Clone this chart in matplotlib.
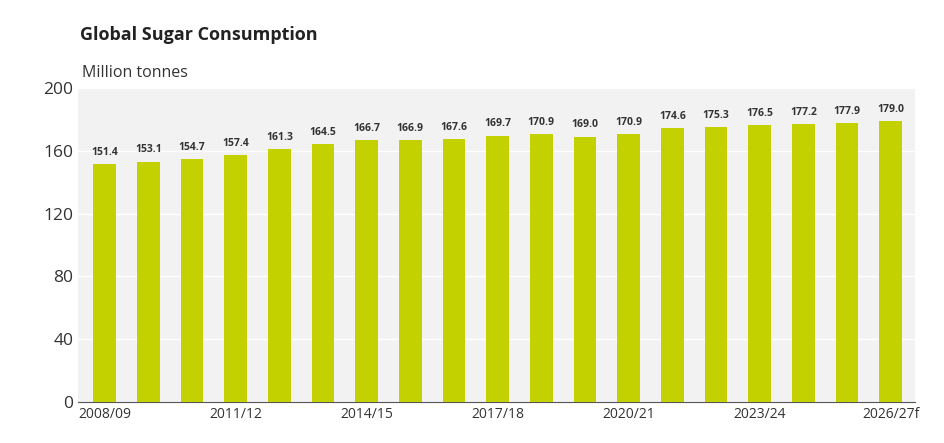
import matplotlib.pyplot as plt

plt.rcParams['font.family'] = ['Open Sans', 'DejaVu Sans']

# data
seasons = ['2008/09', '2009/10', '2010/11', '2011/12', '2012/13', '2013/14', '2014/15',
           '2015/16', '2016/17', '2017/18', '2018/19', '2019/20', '2020/21', '2021/22',
           '2022/23', '2023/24', '2024/25', '2025/26', '2026/27f']
consumption = [151.4, 153.1, 154.7, 157.4, 161.3, 164.5, 166.7, 166.9, 167.6, 169.7,
               170.9, 169.0, 170.9, 174.6, 175.3, 176.5, 177.2, 177.9, 179.0]

fig = plt.figure(figsize=(9.45, 4.43), dpi=100)
ax = fig.add_axes([0.083, 0.093, 0.885, 0.708])
ax.set_facecolor('#f2f2f2')

x = range(len(seasons))
ax.bar(x, consumption, width=0.52, color='#c4d100', zorder=3)
for i, v in zip(x, consumption):
    ax.text(i, v + 4, f'{v:.1f}', ha='center', va='bottom', fontsize=7.5,
            fontweight='bold', color='#333333', zorder=4)

ax.set_ylim(0, 200)
ax.set_xlim(-0.6, len(seasons) - 0.45)
ax.set_yticks(range(0, 201, 40))
ax.grid(axis='y', color='white', linewidth=1, zorder=1)
ax.set_xticks(list(x)[::3])
ax.set_xticklabels(seasons[::3], fontsize=10, color='#333333')
ax.tick_params(axis='y', labelsize=12.5, colors='#333333', length=0)
ax.tick_params(axis='x', length=0, pad=4)
for s in ['top', 'right', 'left']:
    ax.spines[s].set_visible(False)
ax.spines['bottom'].set_color('#555555')

fig.text(0.085, 0.92, 'Global Sugar Consumption', fontsize=13, fontweight='bold',
         color='#222222', va='center')
fig.text(0.087, 0.835, 'Million tonnes', fontsize=11.5, color='#333333', va='center')

fig.savefig('out.png', dpi=100)
